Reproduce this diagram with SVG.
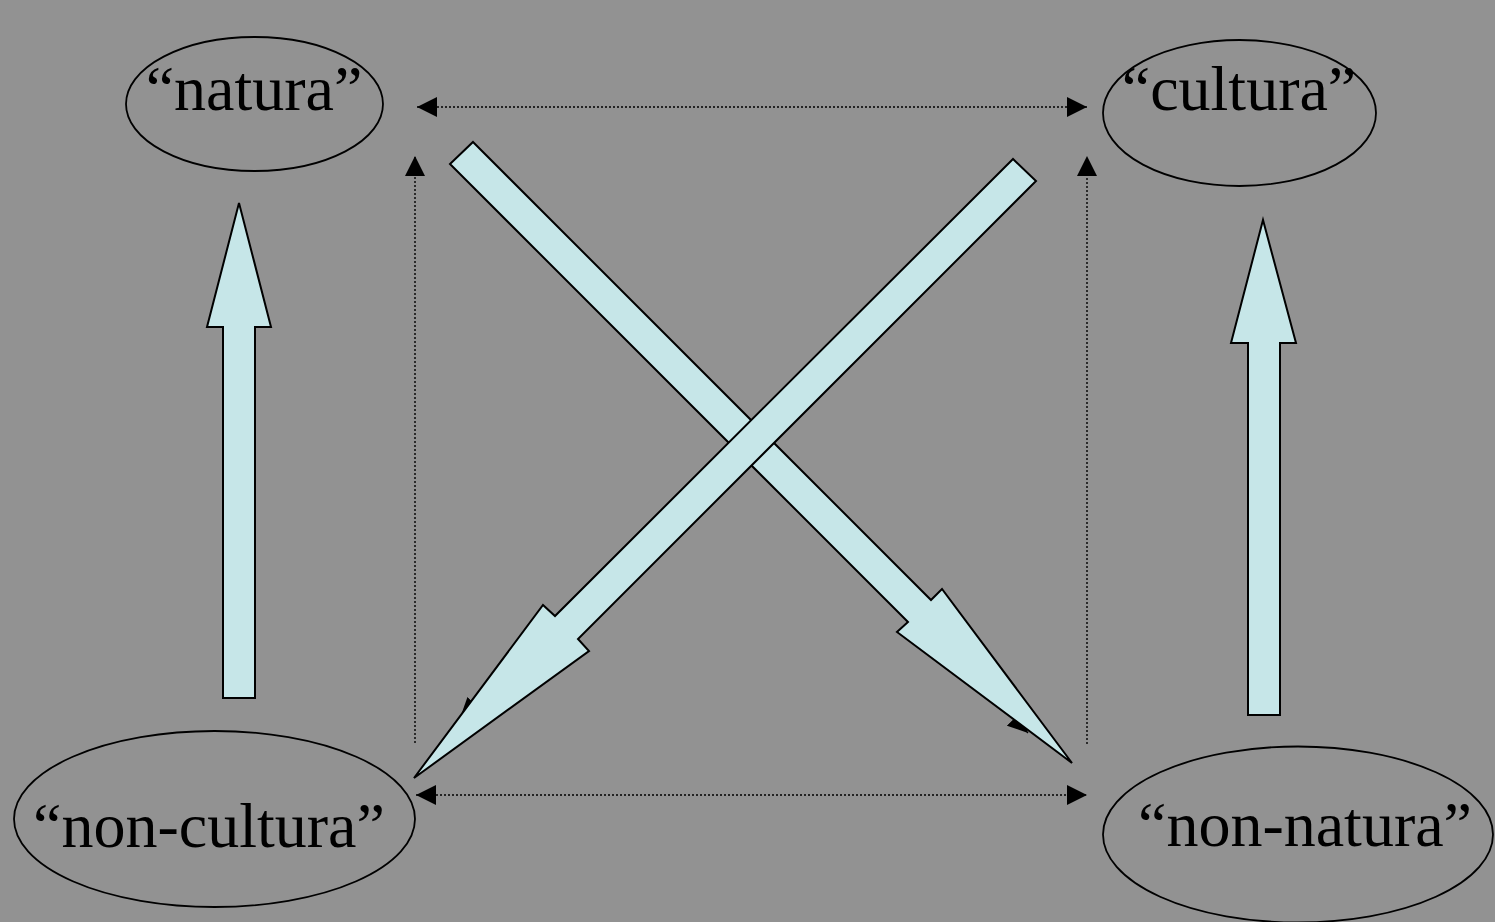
<svg xmlns="http://www.w3.org/2000/svg" width="1495" height="922" viewBox="0 0 1495 922">
<style>
.bg{fill:#929292}
.node ellipse{fill:none;stroke:#000;stroke-width:1.8}
.node text{font-family:"Liberation Serif","Times New Roman",serif;font-size:64px;fill:#000;text-anchor:middle}
.dot{fill:none;stroke:#000;stroke-width:1.4;stroke-dasharray:2 2}
.big{fill:#C6E6E8;stroke:#000;stroke-width:2;stroke-linejoin:miter}
</style>
<defs>
<marker id="ah" viewBox="0 0 20 20" refX="20" refY="10" markerWidth="20" markerHeight="20" markerUnits="userSpaceOnUse" orient="auto-start-reverse">
<path d="M0,0 L20,10 L0,20 Z" fill="#000"/>
</marker>
</defs>
<rect class="bg" x="0" y="0" width="1495" height="922"/>
<g id="connectors">
<line class="dot" x1="417" y1="107" x2="1087" y2="107" marker-start="url(#ah)" marker-end="url(#ah)"/>
<line class="dot" x1="416" y1="795" x2="1087" y2="795" marker-start="url(#ah)" marker-end="url(#ah)"/>
<line class="dot" x1="415" y1="743" x2="415" y2="156" marker-end="url(#ah)"/>
<line class="dot" x1="1087" y1="744" x2="1087" y2="156" marker-end="url(#ah)"/>
<line class="dot" x1="500" y1="190" x2="1028" y2="733" marker-end="url(#ah)"/>
<line class="dot" x1="1000" y1="200" x2="460" y2="718" marker-end="url(#ah)"/>
<polygon class="big" points="223,698 223,327 207,327 239,203 271,327 255,327 255,698"/>
<polygon class="big" points="1248,715 1248,343 1231,343 1263,220 1296,343 1280,343 1280,715"/>
<polygon class="big" points="473,142 931,600 942,589 1072,763 897,632 908,622 450,164"/>
<polygon class="big" points="1013,159 555,616 543,605 414,778 589,651 578,639 1036,181"/>
</g>
<g id="natura" class="node">
<ellipse cx="254.5" cy="104" rx="128.5" ry="67"/>
<text x="254" y="110">“natura”</text>
</g>
<g id="cultura" class="node">
<ellipse cx="1239.5" cy="113" rx="136.5" ry="73"/>
<text x="1239" y="110">“cultura”</text>
</g>
<g id="non-cultura" class="node">
<ellipse cx="214.5" cy="819" rx="200.5" ry="88"/>
<text x="209" y="847">“non-cultura”</text>
</g>
<g id="non-natura" class="node">
<ellipse cx="1298" cy="834.5" rx="195" ry="88"/>
<text x="1305" y="846">“non-natura”</text>
</g>
</svg>
